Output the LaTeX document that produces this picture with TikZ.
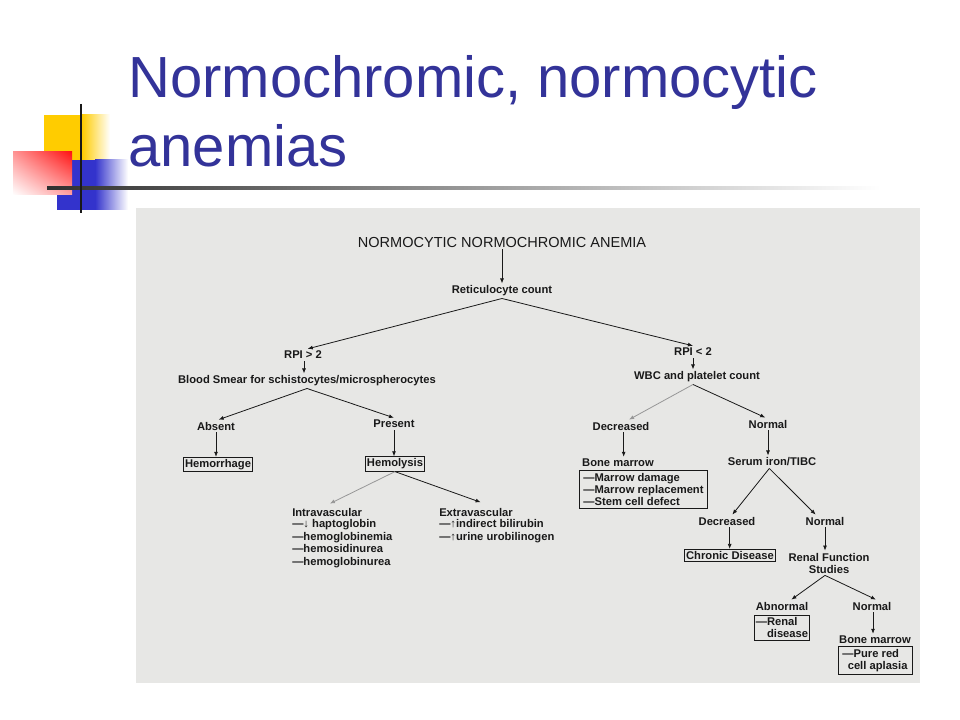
\documentclass[tikz,border=0pt]{standalone}
\usepackage{fontspec}
\setmainfont{Liberation Sans}
\usetikzlibrary{arrows.meta,calc,shadings}
\definecolor{titleblue}{RGB}{51,51,153}
\definecolor{scanbg}{RGB}{231,231,229}
\definecolor{ink}{RGB}{25,25,25}
\definecolor{decoyellow}{RGB}{255,204,0}
\definecolor{decored}{RGB}{255,20,20}
\definecolor{decoblue}{RGB}{51,51,204}
\begin{document}
\begin{tikzpicture}[x=0.75pt,y=-0.75pt,
  lbl/.style={font=\bfseries\fontsize{8.4}{9}\selectfont, text=ink, inner sep=1.5pt},
  headnode/.style={font=\fontsize{10.9}{12}\selectfont, text=ink, inner sep=1.5pt},
  lst/.style={lbl, font=\bfseries\fontsize{8.4}{9.4}\selectfont, align=left, inner sep=0pt},
  boxed/.style={lbl, draw=ink, line width=0.6pt, inner xsep=1.2pt, inner ysep=1.5pt},
  arr/.style={draw=ink, line width=0.6pt, -{Latex[length=3.8pt,width=3pt]}},
  faint/.style={arr, draw=ink!45},
  slidetitle/.style={anchor=base west, inner sep=0pt, text=titleblue, font=\fontsize{43.5}{50}\selectfont},
]
\useasboundingbox (0,0) rectangle (960,720);
\fill[white] (0,0) rectangle (960,720);

% decorations
\fill[decoyellow] (44,115) rectangle (82,160);
\shade[left color=decoyellow, right color=white] (82,115) rectangle (110,160);
\fill[decoblue] (57,160) rectangle (95,210);
\shade[left color=decoblue, right color=white] (95,160) rectangle (128,210);
\shade[upper right=decored, upper left=decored!45!white, lower right=decored!40!white, lower left=white] (13,152) rectangle (72,195);
\shade[left color=ink!90, right color=white] (47,187) rectangle (880,190);
\draw[black!90, line width=1.3pt] (81,104) -- (81,213);

% slide title
\node[slidetitle] (t1) at (128,98) {Normochromic, normocytic};
\node[slidetitle] (t2) at (128,167) {anemias};

% scanned area
\fill[scanbg] (136,208) rectangle (920,683);

% nodes
\node[headnode] (title) at (502,242) {NORMOCYTIC NORMOCHROMIC ANEMIA};
\node[lbl] (ret) at (502,291) {Reticulocyte count};
\node[lbl] (rpiL) at (303,355) {RPI > 2};
\node[lbl] (smear) at (307,381) {Blood Smear for schistocytes/microspherocytes};
\node[lbl] (absent) at (216,426) {Absent};
\node[lbl] (present) at (394,424) {Present};
\node[boxed] (hemor) at (218,464.5) {Hemorrhage};
\node[boxed] (hemol) at (395,464) {Hemolysis};
\node[lbl, anchor=west, inner sep=0pt] (intraH) at (292,512) {Intravascular};
\node[lst, anchor=north west] (intraL) at (292,519.5) {—↓ haptoglobin\\—hemoglobinemia\\—hemosidinurea\\—hemoglobinurea};
\node[lbl, anchor=west, inner sep=0pt] (extraH) at (439,512) {Extravascular};
\node[lst, anchor=north west] (extraL) at (439,519.5) {—↑indirect bilirubin\\—↑urine urobilinogen};

\node[lbl] (rpiR) at (693,352) {RPI < 2};
\node[lbl] (wbc) at (697,377) {WBC and platelet count};
\node[lbl] (decr) at (621,426) {Decreased};
\node[lbl] (norm) at (768,424) {Normal};
\node[lbl] (bm1) at (618,463) {Bone marrow};
\node[boxed, align=left, inner xsep=3pt, inner ysep=2.4pt] (bm1box) at (643.5,489.5) {—Marrow damage\\—Marrow replacement\\—Stem cell defect};
\node[lbl] (serum) at (772,462) {Serum iron/TIBC};
\node[lbl] (decr2) at (727,521) {Decreased};
\node[lbl] (norm2) at (825,521) {Normal};
\node[boxed] (chronic) at (730,555.5) {Chronic Disease};
\node[lbl, align=center] (renal) at (829,563) {Renal Function\\Studies};
\node[lbl] (abn) at (782,606) {Abnormal};
\node[lbl] (norm3) at (872,606) {Normal};
\node[boxed, align=left, inner ysep=1.8pt] (renalbox) at (782,627.5) {—Renal\\\phantom{—}disease};
\node[lbl] (bm2) at (875,640) {Bone marrow};
\node[boxed, align=left, inner xsep=3.4pt, inner ysep=1.8pt] (bm2box) at (875,660.5) {—Pure red\\\hspace*{4pt}cell aplasia};

% connectors
\draw[arr] (title.south) -- (ret.north);
\draw[arr] (ret.south) -- ([xshift=3.5pt]rpiL.north);
\draw[arr] (ret.south) -- (rpiR.north);
\draw[arr] ([xshift=0.75pt]rpiL.south) -- ([xshift=0.75pt]rpiL.south |- smear.north);
\draw[arr] (smear.south) -- ([xshift=2pt]absent.north);
\draw[arr] (smear.south) -- (present.north);
\draw[arr] (absent.south) -- (absent.south |- hemor.north);
\draw[arr] (present.south) -- (present.south |- hemol.north);
\draw[faint] (hemol.south) -- ([xshift=2pt,yshift=3pt]intraH.north);
\draw[arr] (hemol.south) -- ([xshift=3.5pt,yshift=4pt]extraH.north);

\draw[arr] (rpiR.south) -- (rpiR.south |- wbc.north);
\draw[faint] ([xshift=-3pt]wbc.south) -- ([xshift=6pt]decr.north);
\draw[arr] ([xshift=-3pt]wbc.south) -- ([xshift=-2pt]norm.north);
\draw[arr] ([xshift=2pt]decr.south) -- ([xshift=2pt]decr.south |- bm1.north);
\draw[arr] (norm.south) -- (norm.south |- serum.north);
\draw[arr] ([xshift=-2pt]serum.south) -- ([xshift=4pt]decr2.north);
\draw[arr] ([xshift=-2pt]serum.south) -- ([xshift=-7pt]norm2.north);
\draw[arr] ([xshift=2pt]decr2.south) -- ([xshift=2pt]decr2.south |- chronic.north);
\draw[arr] (norm2.south) -- (norm2.south |- renal.north);
\draw[arr] ([xshift=-3pt]renal.south) -- ([xshift=7pt]abn.north);
\draw[arr] ([xshift=-3pt]renal.south) -- ([xshift=3pt]norm3.north);
\draw[arr] ([xshift=0.75pt]norm3.south) -- ([xshift=0.75pt]norm3.south |- bm2.north);
\end{tikzpicture}
\end{document}
